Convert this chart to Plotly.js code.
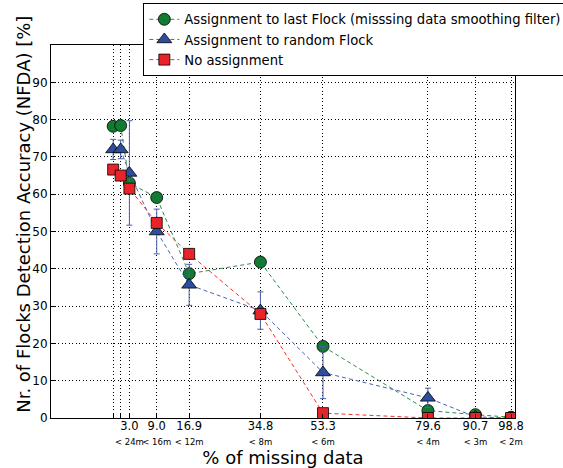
<!DOCTYPE html>
<html>
<head>
<meta charset="utf-8">
<script src="https://cdn.plot.ly/plotly-3.0.1.min.js"></script>
<style>html,body{margin:0;padding:0;background:#fff;}#chart{width:563px;height:468px;}</style>
</head>
<body>
<div id="chart"></div>
<script>
var xPos = [-1.5, 0.4, 2.6, 9.5, 17.7, 35.7, 51.5, 78.0, 90.0, 99.0];
// tick labels: % of missing data and sampling interval
var pctLabels = ['', '', '3.0', '9.0', '16.9', '34.8', '53.3', '79.6', '90.7', '98.8'];
var intervalLabels = ['', '', '&lt; 24m', '&lt; 16m', '&lt; 12m', '&lt; 8m', '&lt; 6m', '&lt; 4m', '&lt; 3m', '&lt; 2m'];

var seriesNames = [
  'Assignment to last Flock (misssing data smoothing filter)',
  'Assignment to random Flock',
  'No assignment'
];
var lastFlock = [78.2, 78.4, 63.0, 59.1, 38.7, 41.8, 19.2, 2.0, 0.9, 0.2];
var randomFlock = [72.0, 72.0, 65.7, 50.0, 35.7, 28.8, 12.2, 5.4, 0.3, 0.0];
var randomFlockErr = [2.7, 2.5, 14.0, 6.0, 5.5, 5.0, 7.0, 2.6, 0.0, 0.0];
var noAssign = [66.6, 65.0, 61.5, 52.3, 44.0, 27.9, 1.3, 0.0, 0.0, 0.0];

var yTicks = [0, 10, 20, 30, 40, 50, 60, 70, 80, 90];

var tickText = pctLabels.map(function (p, i) {
  return p ? p + '<br><span style="font-size:8.5px">' + intervalLabels[i] + '</span>' : '';
});

var FONT = 'DejaVu Sans, sans-serif';

var traces = [
  {
    x: xPos, y: lastFlock, name: seriesNames[0], type: 'scatter', mode: 'lines+markers',
    line: {color: '#2e8b4a', width: 1, dash: '4px,3px'},
    marker: {symbol: 'circle', size: 12, color: '#137a33', line: {color: '#000', width: 0.8}}
  },
  {
    x: xPos, y: randomFlock, name: seriesNames[1], type: 'scatter', mode: 'lines+markers',
    line: {color: '#4a63b3', width: 1, dash: '4px,3px'},
    marker: {symbol: 'triangle-up', size: 13, color: '#2d4d9e', line: {color: '#000', width: 0.8}},
    error_y: {type: 'data', array: randomFlockErr, visible: true, color: '#4a5fa8', thickness: 1, width: 3}
  },
  {
    x: xPos, y: noAssign, name: seriesNames[2], type: 'scatter', mode: 'lines+markers',
    line: {color: '#ee3030', width: 1, dash: '4px,3px'},
    marker: {symbol: 'square', size: 11, color: '#e8232a', line: {color: '#000', width: 0.8}}
  }
];

var layout = {
  width: 563, height: 468,
  margin: {l: 51, r: 47.5, t: 45, b: 49.7, pad: 0, autoexpand: false},
  paper_bgcolor: '#fff', plot_bgcolor: '#fff',
  font: {family: FONT, color: '#000', size: 12},
  showlegend: true,
  legend: {
    x: 0.199, xanchor: 'left', y: 1.112, yanchor: 'top',
    bgcolor: '#fff', bordercolor: '#000', borderwidth: 1,
    font: {family: FONT, size: 13.2, color: '#000'},
    tracegroupgap: 0
  },
  xaxis: {
    range: [-17.2, 100], tickmode: 'array', tickvals: xPos, ticktext: tickText,
    tickangle: 0, automargin: false, ticklabelstandoff: -3,
    showgrid: true, gridcolor: '#000', gridwidth: 1, griddash: '1px,2.5px',
    zeroline: false, showline: true, linecolor: '#000', linewidth: 1, mirror: true,
    ticks: 'inside', ticklen: 4, tickcolor: '#000',
    tickfont: {family: FONT, size: 11.5},
    title: {text: '% of missing data', font: {family: FONT, size: 18}, standoff: 3}
  },
  yaxis: {
    range: [0, 100], tickmode: 'array', tickvals: yTicks, automargin: false,
    showgrid: true, gridcolor: '#000', gridwidth: 1, griddash: '1px,2.5px',
    zeroline: false, showline: true, linecolor: '#000', linewidth: 1, mirror: true,
    ticks: 'inside', ticklen: 4, tickcolor: '#000',
    tickfont: {family: FONT, size: 12}
  },
  annotations: [{
    text: 'Nr. of Flocks Detection Accuracy (NFDA) [%]',
    xref: 'paper', yref: 'paper', x: -0.058, y: 0.545,
    xanchor: 'center', yanchor: 'middle', textangle: -90, showarrow: false,
    font: {family: FONT, size: 18, color: '#000'}
  }]
};

Plotly.newPlot('chart', traces, layout, {displayModeBar: false, staticPlot: true});
</script>
</body>
</html>
